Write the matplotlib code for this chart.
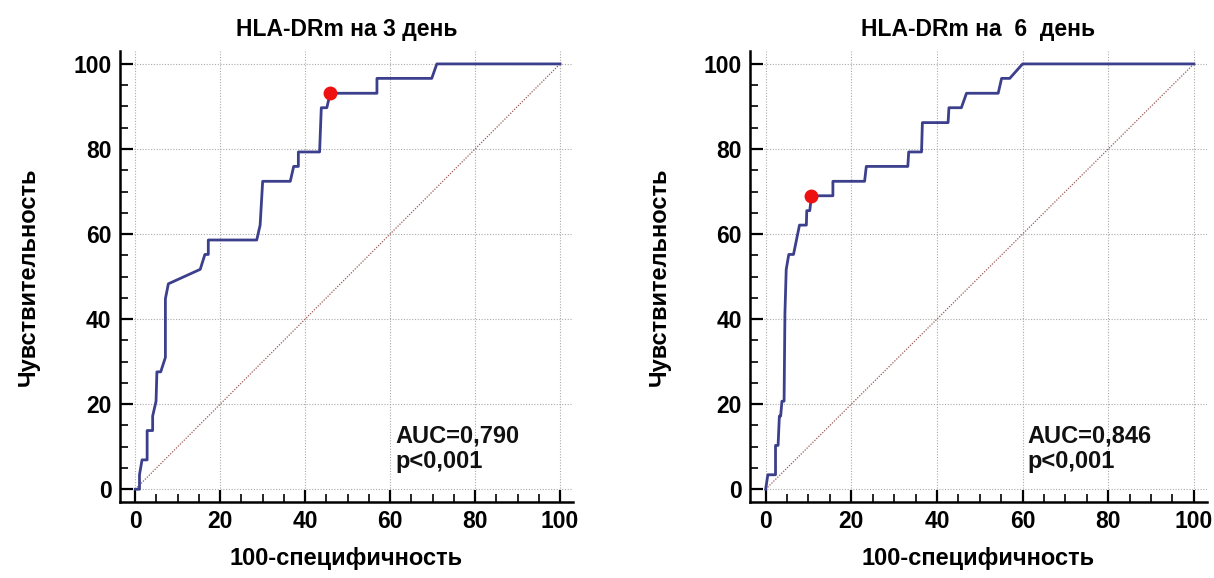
import matplotlib
matplotlib.use('Agg')
import matplotlib.pyplot as plt
from matplotlib.ticker import MultipleLocator

plt.rcParams['font.family'] = ['Liberation Sans', 'DejaVu Sans']
plt.rcParams['font.weight'] = 'bold'

# ROC 3 день
fpr_d3 = [0, 1.0, 1.0, 1.6, 2.8, 2.8, 4.1, 4.1, 4.9, 5.1, 6.0, 7.1, 7.1, 7.8, 15.3, 16.4, 17.2,
          17.2, 28.6, 29.4, 30.0, 36.5, 37.3, 38.4, 38.4, 43.4, 43.8, 45.1, 45.9, 56.9, 56.9,
          69.8, 71.0, 100]
tpr_d3 = [0, 0, 3.4, 6.9, 6.9, 13.8, 13.8, 17.2, 20.7, 27.6, 27.6, 31.0, 44.8, 48.3, 51.7, 55.2,
          55.2, 58.6, 58.6, 62.1, 72.4, 72.4, 75.9, 75.9, 79.3, 79.3, 89.7, 89.7, 93.1, 93.1,
          96.6, 96.6, 100, 100]
cut_d3 = (45.9, 93.1)

# ROC 6 день
fpr_d6 = [0, 0.5, 2.3, 2.3, 2.9, 3.2, 3.5, 3.8, 4.3, 4.5, 4.8, 5.4, 6.5, 7.9, 9.5, 9.6, 10.3,
          10.7, 15.7, 15.7, 23.1, 23.5, 33.2, 33.4, 36.4, 36.6, 42.6, 42.8, 45.7, 46.9, 54.3,
          55.1, 57.0, 60.0, 100]
tpr_d6 = [0, 3.4, 3.4, 10.3, 10.3, 17.2, 17.2, 20.7, 20.7, 41.4, 51.7, 55.2, 55.2, 62.1, 62.1,
          65.5, 65.5, 69.0, 69.0, 72.4, 72.4, 75.9, 75.9, 79.3, 79.3, 86.2, 86.2, 89.7, 89.7,
          93.1, 93.1, 96.6, 96.6, 100, 100]
cut_d6 = (10.7, 69.0)

titulos = ['HLA-DRm на 3 день', 'HLA-DRm на  6  день']
auc_txt = ['AUC=0,790\np<0,001', 'AUC=0,846\np<0,001']

fig = plt.figure(figsize=(12.14, 5.78), dpi=100)
ax1 = fig.add_axes([0.0988, 0.1315, 0.373, 0.780])
ax2 = fig.add_axes([0.618, 0.1315, 0.376, 0.780])

datos = [(ax1, fpr_d3, tpr_d3, cut_d3), (ax2, fpr_d6, tpr_d6, cut_d6)]

for i, (ax, fpr, tpr, cut) in enumerate(datos):
    ax.plot([0, 100], [0, 100], color='#9a5a55', linestyle=(0, (1, 1.2)), linewidth=0.9, zorder=2)
    ax.plot(fpr, tpr, color='#3c3f8c', linewidth=2.0, zorder=3)
    ax.plot(cut[0], cut[1], 'o', color='#ee1111', markersize=9, zorder=4)

    ax.set_xlim(-3.6, 103)
    ax.set_ylim(-3, 103)
    ax.xaxis.set_major_locator(MultipleLocator(20))
    ax.yaxis.set_major_locator(MultipleLocator(20))
    ax.xaxis.set_minor_locator(MultipleLocator(5))
    ax.yaxis.set_minor_locator(MultipleLocator(5))
    ax.tick_params(which='major', direction='in', length=9, width=1.6, labelsize=16.5, pad=6)
    ax.tick_params(which='minor', direction='in', length=6, width=1.2)
    for s in ['top', 'right']:
        ax.spines[s].set_visible(False)
    for s in ['left', 'bottom']:
        ax.spines[s].set_linewidth(1.8)
    ax.grid(True, which='major', color='#aaaaaa', linestyle=(0, (1, 1.5)), linewidth=0.8)
    ax.set_axisbelow(True)

    ax.set_title(titulos[i], fontsize=16.5, fontweight='bold', pad=11)
    ax.set_xlabel('100-специфичность', fontsize=17, fontweight='bold', labelpad=10)
    ax.set_ylabel('Чувствительность', fontsize=17, fontweight='bold', labelpad=24)
    ax.text(61.2, 9.5, auc_txt[i], fontsize=17, fontweight='bold', va='center', ha='left',
            linespacing=1.1, color='#111111')

plt.savefig('out.png', dpi=100)
